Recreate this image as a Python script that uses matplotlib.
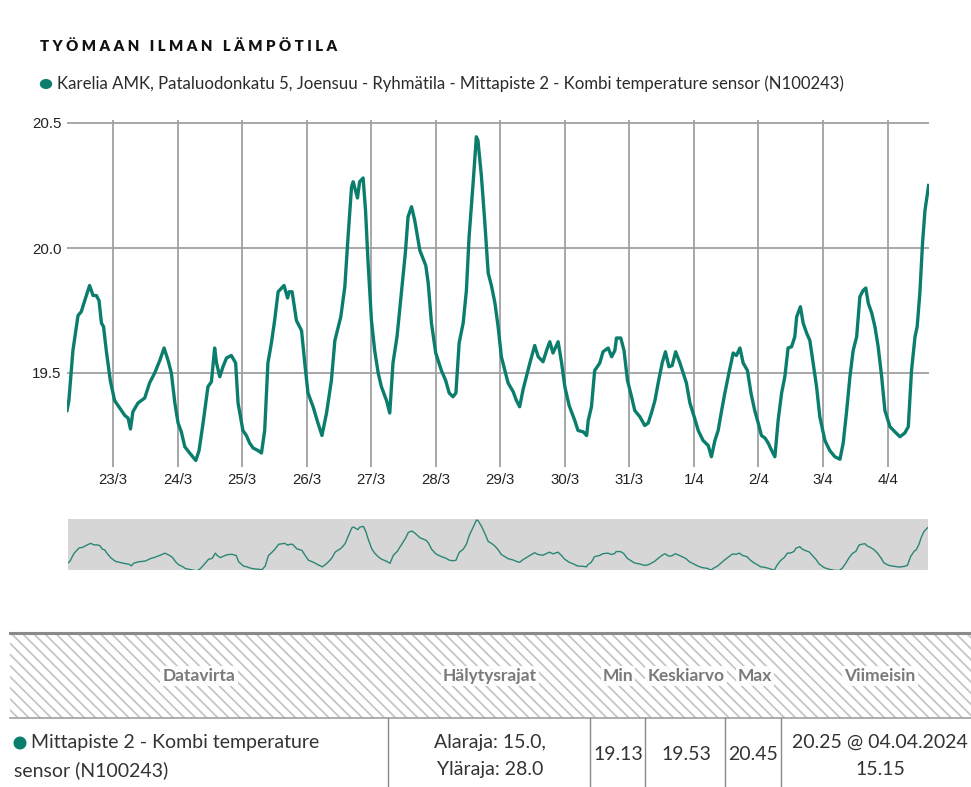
import pandas as pd
import matplotlib
matplotlib.use('Agg')
import matplotlib.pyplot as plt
import matplotlib.dates as mdates
import matplotlib.patches as patches
from matplotlib.ticker import FuncFormatter

# hours since 22.03.2024 00:00 and temperature (degC)
hours = [6.9, 7.6, 9.1, 11.0, 12.2, 13.5, 15.3, 16.6, 17.8, 18.8, 19.7, 20.5, 21.5, 23.0,
         24.6, 26.5, 28.4, 29.6, 30.5, 31.4, 33.3, 35.8, 37.6, 39.5, 41.4, 43.0, 44.5, 45.7,
         47.0, 48.2, 49.4, 50.7, 52.5, 54.8, 56.0, 57.5, 59.3, 60.6, 61.8, 62.5, 63.7, 64.9,
         66.2, 68.0, 69.6, 70.5, 72.3, 73.6, 74.8, 76.1, 77.9, 79.2, 80.4, 81.6, 82.9, 84.1,
         85.4, 87.6, 88.9, 89.5, 90.6, 92.2, 94.1, 95.3, 96.5, 98.4, 100.2, 101.7, 103.4,
         105.2, 106.5, 108.7, 110.2, 111.4, 112.7, 113.3, 114.9, 115.7, 117.0, 117.9, 118.8,
         120.1, 121.3, 122.6, 123.8, 125.7, 126.9, 128.1, 129.6, 131.3, 132.7, 133.7, 135.0,
         136.2, 138.1, 140.3, 141.2, 142.4, 144.0, 146.1, 147.7, 149.0, 150.4, 151.5, 152.7,
         154.2, 155.4, 156.4, 157.9, 159.1, 159.7, 161.0, 162.2, 163.5, 164.7, 166.0, 167.2,
         168.4, 169.7, 170.9, 172.8, 174.0, 175.2, 176.5, 177.7, 179.0, 180.8, 182.1, 183.9,
         185.2, 186.4, 187.6, 189.5, 190.8, 192.0, 193.6, 195.7, 196.9, 198.8, 200.1, 200.7,
         201.9, 203.1, 205.0, 206.2, 208.1, 209.4, 210.6, 211.2, 212.8, 214.0, 215.3, 216.8,
         218.0, 219.9, 221.7, 223.0, 224.2, 225.5, 226.7, 228.2, 229.4, 230.7, 231.9, 233.2,
         234.8, 236.0, 237.2, 238.5, 240.1, 241.6, 243.4, 245.3, 246.5, 247.8, 249.0, 250.3,
         251.5, 253.0, 254.6, 255.8, 257.1, 258.3, 259.9, 261.2, 262.6, 263.9, 265.1, 266.4,
         267.6, 268.9, 270.1, 271.3, 272.6, 273.8, 275.0, 276.3, 277.5, 278.2, 279.6, 280.6,
         281.9, 283.1, 284.3, 285.6, 286.8, 288.7, 290.5, 292.4, 294.3, 295.5, 296.8, 298.0,
         299.2, 300.5, 301.7, 302.9, 303.9, 304.8, 306.1, 307.3, 308.5, 309.8, 311.0, 312.9,
         314.7, 316.6, 318.4, 319.7, 320.9, 322.2, 323.0, 324.0, 325.0, 325.9, 327.25]
temps = [19.35, 19.39, 19.59, 19.73, 19.745, 19.79, 19.85, 19.81, 19.81, 19.79, 19.70, 19.685, 19.59, 19.47,
         19.39, 19.36, 19.33, 19.32, 19.276, 19.345, 19.38, 19.40, 19.46, 19.50, 19.55, 19.60, 19.55, 19.50,
         19.38, 19.30, 19.265, 19.205, 19.18, 19.15, 19.19, 19.30, 19.445, 19.465, 19.60, 19.54, 19.485, 19.525,
         19.56, 19.57, 19.54, 19.38, 19.27, 19.25, 19.22, 19.20, 19.19, 19.18, 19.27, 19.54, 19.62, 19.71,
         19.825, 19.85, 19.80, 19.825, 19.825, 19.71, 19.67, 19.54, 19.42, 19.365, 19.30, 19.25, 19.34,
         19.47, 19.63, 19.725, 19.845, 20.045, 20.245, 20.265, 20.20, 20.265, 20.28, 20.15, 19.95,
         19.71, 19.59, 19.50, 19.445, 19.39, 19.34, 19.54, 19.645, 19.83, 19.98, 20.125, 20.165,
         20.11, 19.99, 19.93, 19.86, 19.70, 19.58, 19.51, 19.47, 19.42, 19.405, 19.42, 19.62,
         19.70, 19.83, 20.045, 20.26, 20.445, 20.43, 20.285, 20.11, 19.90, 19.85, 19.78, 19.685,
         19.565, 19.51, 19.46, 19.425, 19.39, 19.365, 19.435, 19.485, 19.54, 19.61, 19.565, 19.545,
         19.59, 19.625, 19.58, 19.625, 19.54, 19.445, 19.37, 19.31, 19.27, 19.265, 19.25, 19.31,
         19.365, 19.51, 19.54, 19.585, 19.60, 19.565, 19.59, 19.64, 19.64, 19.59, 19.47, 19.405,
         19.35, 19.325, 19.29, 19.30, 19.34, 19.39, 19.46, 19.54, 19.585, 19.525, 19.53, 19.585,
         19.54, 19.50, 19.46, 19.38, 19.325, 19.27, 19.23, 19.21, 19.165, 19.23, 19.27, 19.35,
         19.42, 19.50, 19.58, 19.57, 19.60, 19.54, 19.51, 19.42, 19.35, 19.30, 19.25, 19.24,
         19.22, 19.19, 19.165, 19.31, 19.42, 19.485, 19.60, 19.605, 19.645, 19.725, 19.765, 19.70,
         19.66, 19.63, 19.54, 19.445, 19.325, 19.23, 19.19, 19.165, 19.155, 19.22, 19.35, 19.485,
         19.59, 19.645, 19.805, 19.83, 19.84, 19.78, 19.74, 19.685, 19.605, 19.485, 19.35, 19.285,
         19.265, 19.245, 19.26, 19.285, 19.51, 19.645, 19.685, 19.82, 20.02, 20.15, 20.25]

title = 'TYÖMAAN ILMAN LÄMPÖTILA'
series_name = 'Karelia AMK, Pataluodonkatu 5, Joensuu - Ryhmätila - Mittapiste 2 - Kombi temperature sensor (N100243)'
y_ticks = [19.5, 20.0, 20.5]

table_headers = ['Datavirta', 'Hälytysrajat', 'Min', 'Keskiarvo', 'Max', 'Viimeisin']
row_stream = ['Mittapiste 2 - Kombi temperature', 'sensor (N100243)']
row_limits = ['Alaraja: 15.0,', 'Yläraja: 28.0']
row_min, row_avg, row_max = '19.13', '19.53', '20.45'
row_latest = ['20.25 @ 04.04.2024', '15.15']

teal = '#0b7d6c'
ui_font = 'Lato'

t0 = pd.Timestamp('2024-03-22')
times = t0 + pd.to_timedelta(hours, unit='h')
x_start = t0 + pd.Timedelta(hours=6.9)
x_end = t0 + pd.Timedelta(hours=327.4)

W, H = 971, 787
fig = plt.figure(figsize=(W / 100, H / 100), dpi=100)


def box(x0, y0, x1, y1):
    # pixel box (top-left origin) -> figure fraction rect
    return [x0 / W, 1 - y1 / H, (x1 - x0) / W, (y1 - y0) / H]


# title + legend
spaced = '   '.join(' '.join(w) for w in title.split(' '))
fig.text(40 / W, 1 - 46 / H, spaced, fontsize=10.8, fontweight='heavy', family=ui_font,
         color='#111111', va='center', ha='left')
fig.patches.append(patches.Circle((46 / W, 1 - 84 / H), 6.2 / W, transform=fig.transFigure,
                                  facecolor=teal, edgecolor='none'))
fig.text(57 / W, 1 - 84 / H, series_name, fontsize=12.1, family=ui_font, color='#2b2b2b',
         va='center', ha='left')

# main chart
ax = fig.add_axes(box(67, 120, 929, 467))
ax.plot(times, temps, color=teal, linewidth=2.4, solid_joinstyle='round')
ax.set_xlim(x_start, x_end)
ax.set_ylim(19.124, 20.512)
ax.set_yticks(y_ticks)
ax.yaxis.set_major_formatter(FuncFormatter(lambda v, p: f'{v:.1f}'))
ax.xaxis.set_major_locator(mdates.DayLocator())
ax.xaxis.set_major_formatter(FuncFormatter(lambda v, p: f'{mdates.num2date(v).day}/{mdates.num2date(v).month}'))
ax.grid(True, color='#a0a0a0', linewidth=1.3)
ax.set_axisbelow(True)
for s in ax.spines.values():
    s.set_visible(False)
ax.tick_params(length=0, labelsize=10.8, labelcolor='#222222', pad=4)
for lab in ax.get_xticklabels() + ax.get_yticklabels():
    lab.set_family('Liberation Sans')

# navigator
nav = fig.add_axes(box(68, 519, 928, 570))
nav.set_facecolor('#d6d6d6')
nav.plot(times, temps, color='#2a8676', linewidth=1.0)
nav.set_xlim(x_start, x_end)
nav.set_ylim(19.17, 20.47)
nav.set_xticks([])
nav.set_yticks([])
for s in nav.spines.values():
    s.set_visible(False)

# summary table, drawn in pixel units
tab = fig.add_axes(box(0, 620, W, H))
tab.set_xlim(0, W)
tab.set_ylim(H, 620)
tab.axis('off')
plt.rcParams['hatch.linewidth'] = 1.2
tab.add_patch(patches.Rectangle((10, 633), W - 10, 85, facecolor='white', edgecolor='#c2c2c2',
                                linewidth=0, hatch='\\\\\\'))
tab.plot([10, W], [633, 633], color='#8a8a8a', linewidth=2.2)
tab.plot([10, W], [718, 718], color='#a0a0a0', linewidth=1.2)
for xs in [388, 590, 645, 725, 781]:
    tab.plot([xs, xs], [718, H], color='#8a8a8a', linewidth=1.0)

header_x = [199, 490, 618, 686, 755, 880]
for hx, ht in zip(header_x, table_headers):
    tab.text(hx, 676, ht, ha='center', va='center', fontsize=12.5, fontweight='bold',
             family=ui_font, color='#7a7a7a',
             bbox=dict(facecolor='white', edgecolor='none', pad=1.5, alpha=0.9))

cell_kw = dict(fontsize=14, family=ui_font, color='#333333', va='center')
tab.add_patch(patches.Circle((20, 743), 6.5, facecolor=teal, edgecolor='none'))
tab.text(31, 743, row_stream[0], ha='left', **cell_kw)
tab.text(14, 770, row_stream[1], ha='left', **cell_kw)
tab.text(490, 743, row_limits[0], ha='center', **cell_kw)
tab.text(490, 770, row_limits[1], ha='center', **cell_kw)
tab.text(618, 755, row_min, ha='center', **cell_kw)
tab.text(686, 755, row_avg, ha='center', **cell_kw)
tab.text(753, 755, row_max, ha='center', **cell_kw)
tab.text(880, 742, row_latest[0], ha='center', **cell_kw)
tab.text(880, 770, row_latest[1], ha='center', **cell_kw)

plt.savefig('out.png', dpi=100)
